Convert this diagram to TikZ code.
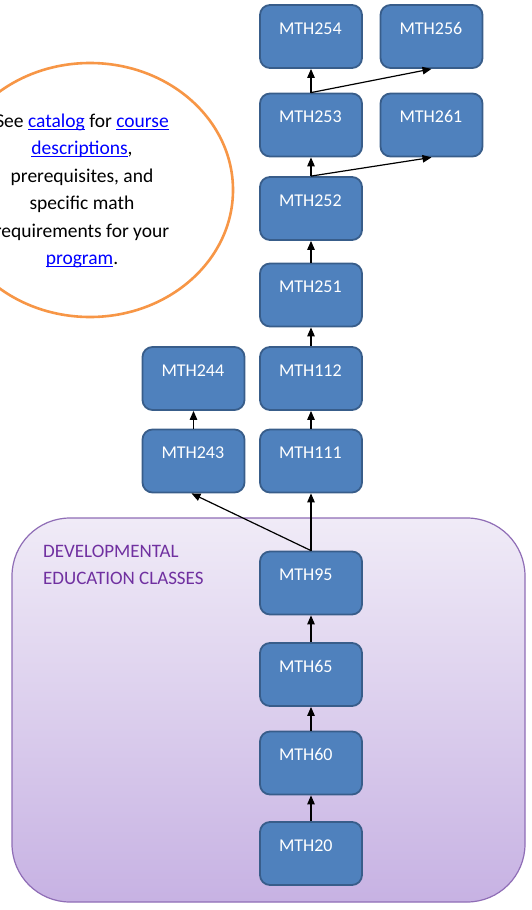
\documentclass[tikz,border=0pt]{standalone}
\usepackage{fontspec}
\setmainfont{Carlito}
\usetikzlibrary{arrows.meta,shapes.geometric}

\definecolor{boxfill}{HTML}{4F81BD}
\definecolor{boxedge}{HTML}{385D8A}
\definecolor{ringorange}{HTML}{F79646}
\definecolor{devtop}{HTML}{F0EBF7}
\definecolor{devbottom}{HTML}{C7B2E3}
\definecolor{devedge}{HTML}{8F6DB6}
\definecolor{devtext}{HTML}{7030A0}
\definecolor{linkblue}{HTML}{0000FF}

% underlined blue link text
\newsavebox{\lnkbox}
\newcommand{\lnk}[1]{\sbox{\lnkbox}{\color{linkblue}#1}{\color{linkblue}\rlap{\rule[-2.4pt]{\wd\lnkbox}{1pt}}\usebox{\lnkbox}}}

\tikzset{
  course/.style={draw=boxedge, line width=1.8pt, fill=boxfill, rounded corners=10pt,
    text=white, font=\fontsize{18}{20}\selectfont,
    text width=64pt, align=left, inner xsep=19pt,
    inner ysep=8pt, text height=21pt, text depth=26pt},
  prereq/.style={line width=1.2pt, -{Triangle[length=9pt,width=7.5pt]}},
}

\begin{document}
\begin{tikzpicture}[x=1pt,y=-1pt]
\useasboundingbox (0,0) rectangle (531,910);

% developmental education region
\path[top color=devtop, bottom color=devbottom, draw=devedge, line width=1.2pt,
      rounded corners=58pt] (12,518) rectangle (525,902);
\node[anchor=north west, align=left, text=devtext, inner sep=0pt,
      font=\fontsize{19}{27}\selectfont] (devlabel) at (43,545)
  {DEVELOPMENTAL\\EDUCATION CLASSES};

% catalog note
\node[draw=ringorange, line width=2.6pt, ellipse, fill=white,
      minimum width=286pt, minimum height=254pt] (ring) at (90,190) {};
\node[align=center, inner sep=0pt, font=\fontsize{19.5}{27.4}\selectfont] (notetext) at (82,191)
  {See \lnk{catalog} for \lnk{course}\\
   \lnk{descriptions},\\
   prerequisites, and\\
   specific math\\
   requirements for your\\
   \lnk{program}.};

% courses
\node[course] (m254) at (311,36.5) {MTH254};
\node[course] (m256) at (431.5,36.5) {MTH256};
\node[course] (m253) at (311,125) {MTH253};
\node[course] (m261) at (431.5,125) {MTH261};
\node[course] (m252) at (311,208.5) {MTH252};
\node[course] (m251) at (311,295) {MTH251};
\node[course] (m112) at (311,378.5) {MTH112};
\node[course] (m244) at (193.5,378.5) {MTH244};
\node[course] (m111) at (311,461) {MTH111};
\node[course] (m243) at (193.5,461) {MTH243};
\node[course] (m95) at (311,583) {MTH95};
\node[course] (m65) at (311,674.5) {MTH65};
\node[course] (m60) at (311,763) {MTH60};
\node[course] (m20) at (311,853.5) {MTH20};

% prerequisite arrows
\draw[prereq] (m20) -- (m60);
\draw[prereq] (m60) -- (m65);
\draw[prereq] (m65) -- (m95);
\draw[prereq] (m95) -- (m111);
\draw[prereq] (m95.north) -- ([xshift=-2pt]m243.south);
\draw[prereq] (m243) -- (m244);
\draw[prereq] (m111) -- (m112);
\draw[prereq] (m112) -- (m251);
\draw[prereq] (m251) -- (m252);
\draw[prereq] (m252) -- (m253);
\draw[prereq] (m252.north) -- (m261.south);
\draw[prereq] (m253) -- (m254);
\draw[prereq] (m253.north) -- (m256.south);
\end{tikzpicture}
\end{document}
